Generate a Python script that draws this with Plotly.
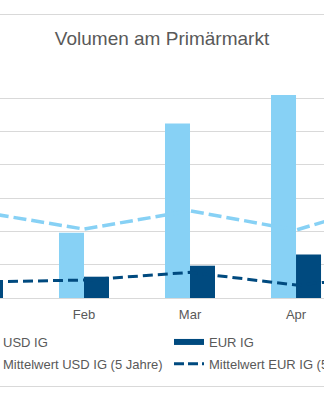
import plotly.graph_objects as go

months = ["Jan", "Feb", "Mar", "Apr", "May"]
usd_ig = [3.0, 1.96, 5.24, 6.1, 4.0]
eur_ig = [0.52, 0.64, 0.97, 1.31, 0.8]
usd_mean = [2.60, 2.07, 2.62, 2.04, 2.99]
eur_mean = [0.48, 0.54, 0.77, 0.39, 0.69]

LIGHT = "#87D1F5"
DARK = "#004A7F"
GRID = "#D9D9D9"
TXT = "#595959"
FONT = "Liberation Sans, Arial, sans-serif"

fig = go.Figure()
fig.add_trace(go.Bar(x=months, y=usd_ig, marker_color=LIGHT, marker_line_width=0,
                     showlegend=False, name="USD IG"))
fig.add_trace(go.Bar(x=months, y=eur_ig, marker_color=DARK, marker_line_width=0,
                     showlegend=False, name="EUR IG"))
fig.add_trace(go.Scatter(x=months, y=usd_mean, mode="lines", showlegend=False,
                         line=dict(color=LIGHT, width=3.5, dash="13px,5px")))
fig.add_trace(go.Scatter(x=months, y=eur_mean, mode="lines", showlegend=False,
                         line=dict(color=DARK, width=3, dash="10px,5px")))

# legend entries
fig.add_trace(go.Scatter(x=[None], y=[None], mode="lines", name="USD IG",
                         line=dict(color=LIGHT, width=6), legend="legend", legendgroup="a"))
fig.add_trace(go.Scatter(x=[None], y=[None], mode="lines", name="Mittelwert USD IG (5 Jahre)",
                         line=dict(color=LIGHT, width=3, dash="10px,4px"), legend="legend", legendgroup="b"))
fig.add_trace(go.Scatter(x=[None], y=[None], mode="lines", name="EUR IG",
                         line=dict(color=DARK, width=6), legend="legend2", legendgroup="c"))
fig.add_trace(go.Scatter(x=[None], y=[None], mode="lines", name="Mittelwert EUR IG (5 Jahre)",
                         line=dict(color=DARK, width=3, dash="10px,4px"), legend="legend2", legendgroup="d"))

PLOT_TOP, PLOT_BOTTOM = 64, 298
PH = PLOT_BOTTOM - PLOT_TOP

leg_common = dict(orientation="v", yanchor="top", xanchor="left", y=-(327 - PLOT_BOTTOM) / PH,
                  font=dict(size=13, color=TXT, family=FONT), bgcolor="rgba(0,0,0,0)",
                  tracegroupgap=2, borderwidth=0)

top_line = (PLOT_BOTTOM - 14.5) / PH
bottom_line = (PLOT_BOTTOM - 386.5) / PH

fig.update_layout(
    width=324, height=400,
    margin=dict(l=0, r=0, t=PLOT_TOP, b=400 - PLOT_BOTTOM, autoexpand=False),
    paper_bgcolor="white", plot_bgcolor="white",
    font=dict(family=FONT, color=TXT),
    title=dict(text="Volumen am Primärmarkt", x=0.5, xanchor="center", y=0.905, yanchor="middle",
               yref="container", font=dict(size=19, color=TXT, family=FONT)),
    barmode="group", bargap=0.528, bargroupgap=0,
    xaxis=dict(type="category", categoryorder="array", categoryarray=months,
               range=[0.2075, 3.264], showgrid=False, showline=True, linecolor=GRID,
               linewidth=1, ticks="", ticklabelstandoff=4,
               tickfont=dict(size=13, color=TXT, family=FONT)),
    yaxis=dict(range=[0, 7.03], tickmode="array", tickvals=[1, 2, 3, 4, 5, 6, 7],
               showgrid=True, gridcolor=GRID, gridwidth=1,
               zeroline=False, showticklabels=False, ticks=""),
    legend=dict(x=-37 / 324, **leg_common),
    legend2=dict(x=169 / 324, **leg_common),
    shapes=[
        dict(type="line", xref="paper", yref="paper", x0=0, x1=1, y0=top_line,
             y1=top_line, line=dict(color=GRID, width=1.2)),
        dict(type="line", xref="paper", yref="paper", x0=0, x1=1, y0=bottom_line,
             y1=bottom_line, line=dict(color=GRID, width=1.2)),
    ],
)

fig.write_html("out.html")
